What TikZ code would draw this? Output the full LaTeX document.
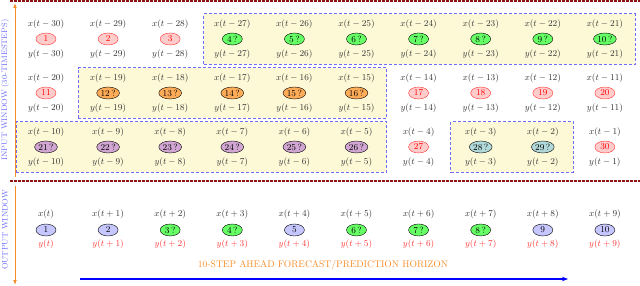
\documentclass[tikz,border=0pt]{standalone}
\usepackage{amsmath}
\usetikzlibrary{arrows.meta,backgrounds,fit,positioning,shapes.geometric}
\definecolor{winred}{RGB}{140,20,20}
\definecolor{winblue}{RGB}{110,110,250}
\definecolor{winorange}{RGB}{245,140,40}
\definecolor{winyellow}{RGB}{253,249,215}
\tikzset{
  cell/.style={ellipse,draw,minimum width=20pt,minimum height=12pt,inner sep=0.5pt,font=\small},
  redcell/.style={cell,draw=red!80,fill=red!20,text=red},
  grncell/.style={cell,fill=green!60},
  orgcell/.style={cell,fill=orange!65},
  viocell/.style={cell,fill=violet!35},
  teacell/.style={cell,fill=teal!30},
  blucell/.style={cell,fill=blue!22},
  timelbl/.style={font=\small,text=black!80,inner sep=2pt},
  winbox/.style={draw=winblue,fill=winyellow,line width=0.7pt,dash pattern=on 3pt off 2pt,inner xsep=18.5pt,inner ysep=19pt},
  sepline/.style={winred,line width=1.2pt,dash pattern=on 2.5pt off 1.5pt},
  winarrow/.style={-{Latex[length=5pt]},winorange,line width=1pt},
}
% one cell of the input window: number, style, text
\newcommand{\incell}[3]{%
  \pgfmathtruncatemacro{\cellrow}{(#1-1)/10}%
  \pgfmathtruncatemacro{\cellcol}{mod(#1-1,10)}%
  \pgfmathtruncatemacro{\celllag}{31-#1}%
  \node[#2] (in#1) at ({46+62.1*\cellcol},{39+54*\cellrow}) {#3};
  \node[timelbl,above=2pt of in#1] (inx#1) {$x(t-\celllag)$};
  \node[timelbl,below=2pt of in#1] (iny#1) {$y(t-\celllag)$};}

\begin{document}
\begin{tikzpicture}[x=1pt,y=-1pt]
  \useasboundingbox (0,0) rectangle (640,286);
  % input window
  \foreach \i in {1,2,3,11,17,18,19,20,27,30} {\incell{\i}{redcell}{\i}}
  \foreach \i in {4,...,10} {\incell{\i}{grncell}{\i\,?}}
  \foreach \i in {12,...,16} {\incell{\i}{orgcell}{\i\,?}}
  \foreach \i in {21,...,26} {\incell{\i}{viocell}{\i\,?}}
  \foreach \i in {28,29} {\incell{\i}{teacell}{\i\,?}}
  \begin{scope}[on background layer]
    \node[winbox,fit=(in4)(in10)] (winA) {};
    \node[winbox,fit=(in12)(in16)] (winB) {};
    \node[winbox,fit=(in21)(in26)] (winC) {};
    \node[winbox,fit=(in28)(in29)] (winD) {};
  \end{scope}
  % output window
  \foreach \k/\sty/\lbl/\tm in {0/blucell/1/t, 1/blucell/2/t+1, 2/grncell/3\,?/t+2,
      3/grncell/4\,?/t+3, 4/blucell/5/t+4, 5/grncell/6\,?/t+5, 6/grncell/7\,?/t+6,
      7/grncell/8\,?/t+7, 8/blucell/9/t+8, 9/blucell/10/t+9} {
    \node[\sty] (out\k) at ({46+62.1*\k},230) {\lbl};
    \node[timelbl,above=2.5pt of out\k] (outx\k) {$x(\tm)$};
    \node[timelbl,text=red!80,below=1pt of out\k] (outy\k) {$y(\tm)$};
  }
  % separators
  \coordinate (topL) at (10,1);
  \coordinate (topR) at (640,1);
  \coordinate (midL) at (10,181);
  \coordinate (midR) at (640,181);
  \draw[sepline] (topL) -- (topR);
  \draw[sepline] (midL) -- (midR);
  % window arrows
  \coordinate (inlo) at (15,177);
  \coordinate (inhi) at (15,3);
  \coordinate (outhi) at (15,186);
  \coordinate (outlo) at (15,285);
  \draw[winarrow] (inlo) -- (inhi);
  \draw[winarrow] (outhi) -- (outlo);
  \node[rotate=90,text=winblue,font=\footnotesize] (inlbl) at (5,90) {INPUT WINDOW (30-TIMESTEPS)};
  \node[rotate=90,text=winblue,font=\footnotesize] (outlbl) at (5,230) {OUTPUT WINDOW};
  % horizon
  \node[text=winorange,font=\fontsize{9.6}{11}\selectfont] (horlbl) at (323,265) {10-STEP AHEAD FORECAST/PREDICTION HORIZON};
  \coordinate (horL) at (80,279);
  \coordinate (horR) at (568,279);
  \draw[-{Stealth[length=6pt]},blue,line width=1.5pt] (horL) -- (horR);
\end{tikzpicture}
\end{document}
